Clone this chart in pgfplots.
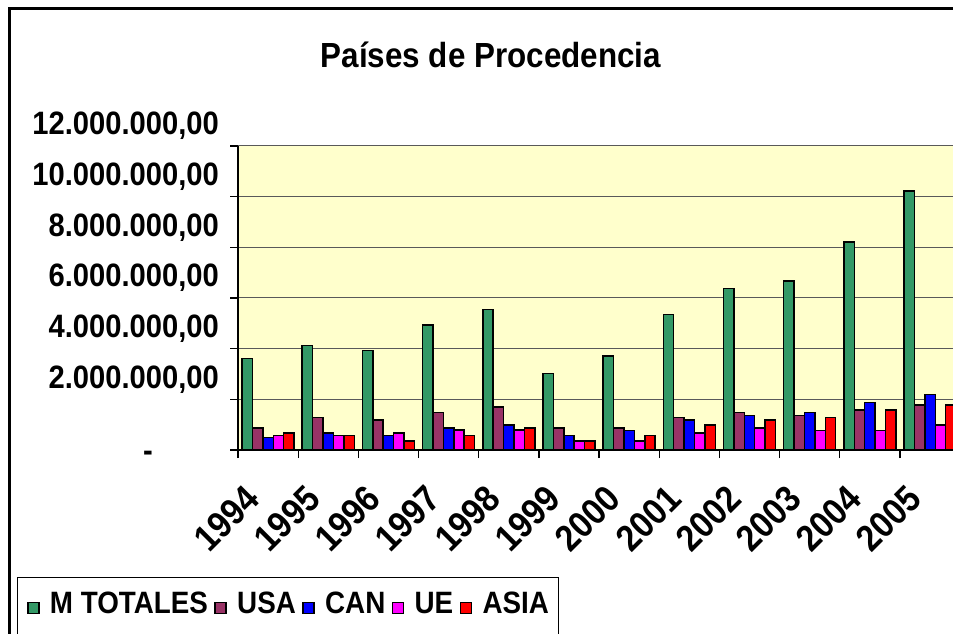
\documentclass[border=0pt]{standalone}
\usepackage{pgfplots}
\pgfplotsset{compat=1.18}
\usepackage{fontspec}
\setmainfont{Liberation Sans}
\newfontfamily\cf{Liberation Sans Bold}[FakeStretch=0.9]
\definecolor{cgreen}{RGB}{51,153,102}
\definecolor{cpurple}{RGB}{153,51,102}
\definecolor{cblue}{RGB}{0,0,255}
\definecolor{cmag}{RGB}{255,0,255}
\definecolor{cred}{RGB}{255,0,0}
\definecolor{bgyellow}{RGB}{255,255,204}
\begin{document}
\begin{tikzpicture}
\useasboundingbox (0,0) rectangle (953bp,634bp);
\draw[line width=2.5bp] (9.5bp,-20bp) -- (9.5bp,625.5bp) -- (980bp,625.5bp);
\begin{axis}[
  at={(238bp,184bp)}, anchor=south west,
  scale only axis, width=715bp, height=304bp,
  xmin=-0.5, xmax=11.381, ymin=0, ymax=12,
  axis background/.style={fill=bgyellow},
  axis x line*=bottom, axis y line*=left,
  axis line style={line width=1.5bp, black},
  ybar, bar width=0.173,
  tick align=outside, major tick length=8bp,
  tick style={black, line width=1.2bp},
  ymajorgrids, grid style={black!65, line width=1bp},
  ytick={0,2,...,12},
  yticklabels={{\raisebox{-23pt}{\makebox[76pt][l]{-}}},{2.000.000,00},{4.000.000,00},{6.000.000,00},{8.000.000,00},{10.000.000,00},{12.000.000,00}},
  xtick={-0.5,0.5,...,11.5}, xticklabels={},
  extra x ticks={0,1,...,11},
  extra x tick labels={1994,1995,1996,1997,1998,1999,2000,2001,2002,2003,2004,2005},
  extra x tick style={major tick length=0pt},
  ticklabel style={inner sep=0pt},
  xticklabel style={font=\cf\fontsize{37}{37}\selectfont, xshift=-15bp, yshift=-42bp, rotate=45, anchor=east},
  yticklabel style={font=\cf\fontsize{32.5}{32.5}\selectfont, anchor=base east, xshift=-11bp, yshift=11bp},
  title={Países de Procedencia},
  title style={font=\cf\fontsize{35}{35}\selectfont, at={(axis description cs:0.3537,1.2391)}, anchor=base, inner sep=0pt},
  legend columns=5,
  legend style={at={(axis description cs:-0.3091,-0.4178)}, anchor=north west, draw=black, line width=1bp,
    inner xsep=9.7bp, inner ysep=14bp, font=\cf\fontsize{31}{31}\selectfont,
    nodes={inner sep=0pt, text height=22pt, text depth=14pt},
    /tikz/every odd column/.append style={column sep=10.3bp},
    /tikz/every even column/.append style={column sep=6.5bp}},
  myleg/.style={legend image code/.code={\draw[##1, line width=1.5bp, draw=black] (0pt,-4pt) rectangle (11pt,7pt);}},
]
\addplot[bar shift=-0.346, fill=cgreen, draw=black, line width=1.5bp, myleg] coordinates {
(0,3.62) (1,4.13) (2,3.93) (3,4.94) (4,5.54) (5,3.01) (6,3.71) (7,5.35) (8,6.38) (9,6.67) (10,8.21) (11,10.23)};
\addplot[bar shift=-0.173, fill=cpurple, draw=black, line width=1.5bp, myleg] coordinates {
(0,0.86) (1,1.28) (2,1.18) (3,1.48) (4,1.69) (5,0.87) (6,0.87) (7,1.28) (8,1.48) (9,1.37) (10,1.58) (11,1.78)};
\addplot[bar shift=0, fill=cblue, draw=black, line width=1.5bp, myleg] coordinates {
(0,0.49) (1,0.67) (2,0.57) (3,0.86) (4,0.98) (5,0.57) (6,0.77) (7,1.18) (8,1.37) (9,1.48) (10,1.88) (11,2.19)};
\addplot[bar shift=0.173, fill=cmag, draw=black, line width=1.5bp, myleg] coordinates {
(0,0.57) (1,0.57) (2,0.67) (3,0.78) (4,0.78) (5,0.35) (6,0.35) (7,0.67) (8,0.86) (9,0.76) (10,0.76) (11,0.98)};
\addplot[bar shift=0.346, fill=cred, draw=black, line width=1.5bp, myleg] coordinates {
(0,0.67) (1,0.57) (2,0.35) (3,0.57) (4,0.87) (5,0.35) (6,0.57) (7,0.98) (8,1.18) (9,1.28) (10,1.58) (11,1.78)};
\legend{M TOTALES, USA, CAN, UE, ASIA}
\end{axis}
\end{tikzpicture}
\end{document}
